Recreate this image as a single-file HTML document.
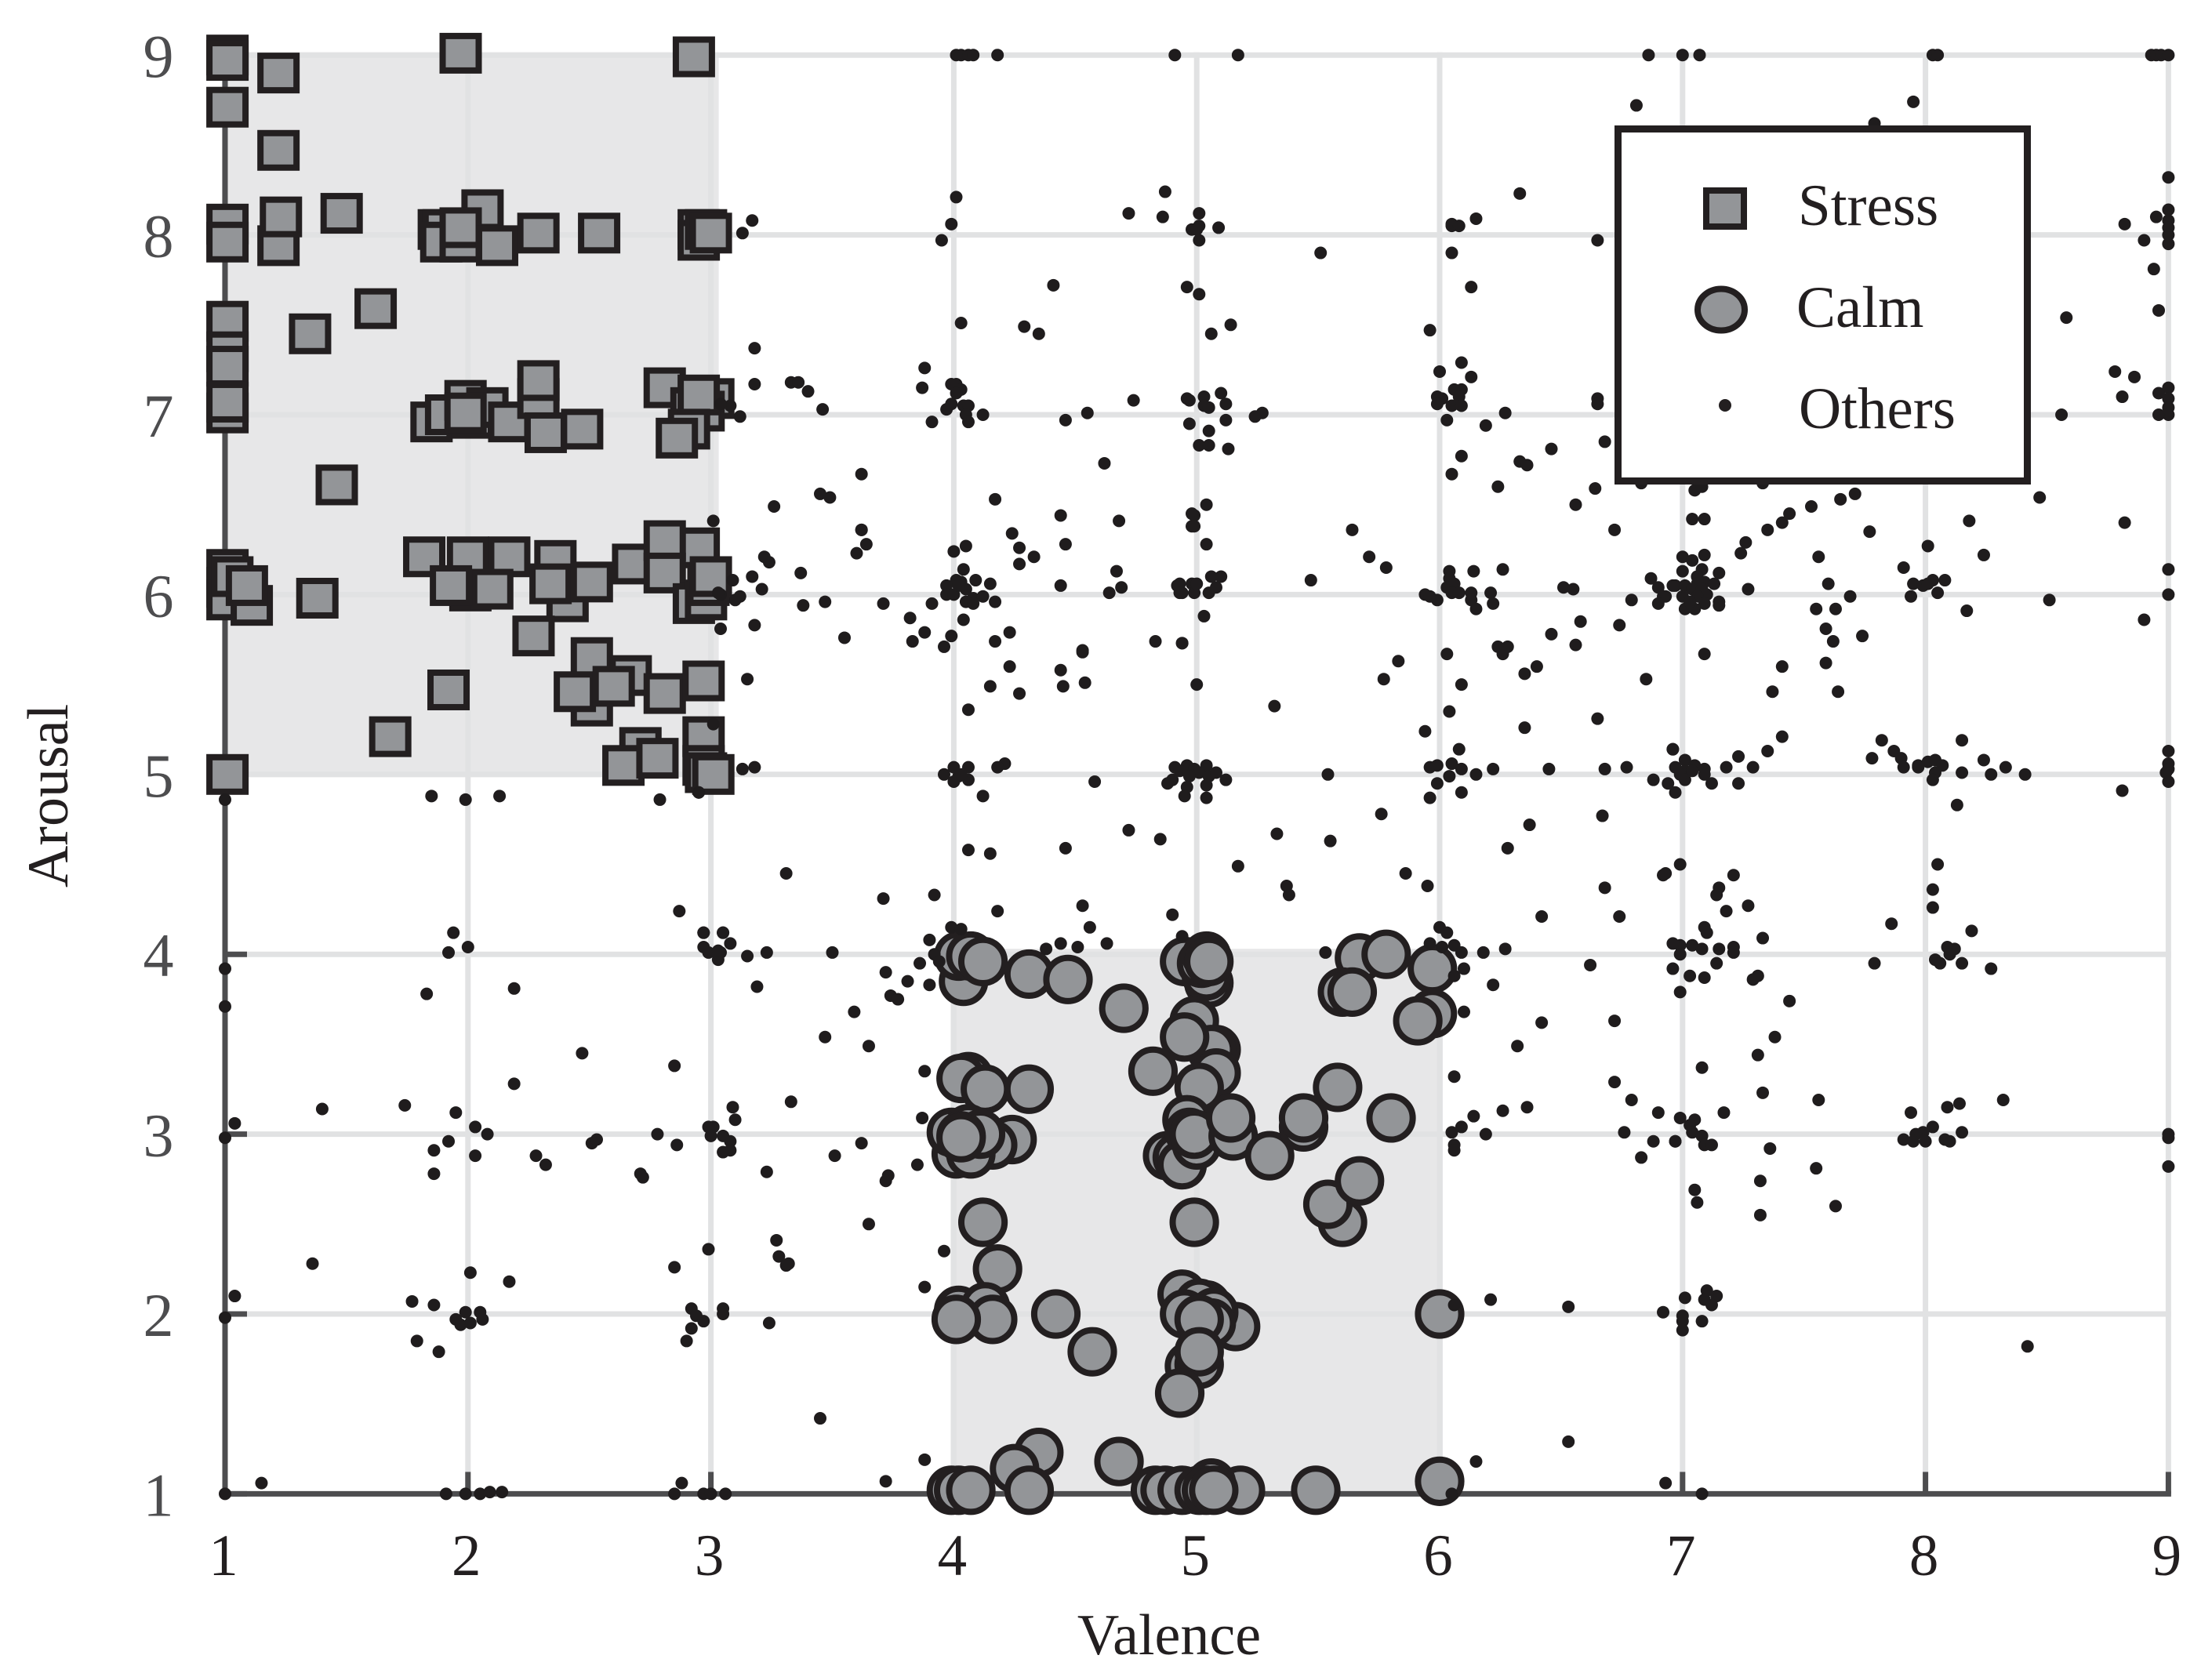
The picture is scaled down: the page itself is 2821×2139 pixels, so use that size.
<!DOCTYPE html>
<html lang="en">
<head>
<meta charset="utf-8">
<title>Valence Arousal Scatter</title>
<style>
html,body{margin:0;padding:0;background:#fff}
svg{display:block}
text{font-family:"Liberation Serif",serif}
</style>
</head>
<body>
<svg id="chart" xmlns="http://www.w3.org/2000/svg" width="2821" height="2139" viewBox="0 0 2821 2139">
  <rect x="0" y="0" width="2821" height="2139" fill="#ffffff"/>
  <g id="shades"></g>
  <g id="grid"></g>
  <g id="axes"></g>
  <g id="stress-marks"></g>
  <g id="calm-marks"></g>
  <g id="others-marks"></g>
  <g id="tick-labels"></g>
  <text x="1491" y="2110" font-size="74" text-anchor="middle" fill="#231f20">Valence</text>
  <text x="0" y="0" font-size="74" text-anchor="middle" fill="#231f20" transform="translate(86 1015) rotate(-90)">Arousal</text>
  <g>
    <rect x="2063.5" y="164.5" width="522" height="449" fill="#ffffff" stroke="#231f20" stroke-width="9"/>
    <rect x="2176" y="243" width="48" height="46" fill="#939598" stroke="#231f20" stroke-width="8"/>
    <text x="2293" y="287" font-size="75" fill="#231f20">Stress</text>
    <ellipse cx="2195" cy="395" rx="30" ry="26.5" fill="#939598" stroke="#231f20" stroke-width="8"/>
    <text x="2291" y="417" font-size="75" fill="#231f20">Calm</text>
    <circle cx="2200" cy="517" r="8" fill="#231f20"/>
    <text x="2294" y="546" font-size="75" fill="#231f20">Others</text>
  </g>
</svg>
<script>
const xTicks = [1,2,3,4,5,6,7,8,9];
const yTicks = [1,2,3,4,5,6,7,8,9];

const stressPoints = [
[1.01,9.0],[1.01,8.97],[1.22,8.9],[1.97,9.01],[2.93,8.99],[1.01,8.71],[1.22,8.47],
[1.01,8.06],[1.01,7.96],[1.22,7.94],[1.23,8.10],[1.48,8.12],
[1.88,8.03],[1.90,8.03],[1.89,7.96],[1.97,7.96],[2.06,8.14],[1.97,8.04],[2.12,7.94],[2.29,8.01],[2.54,8.01],
[2.95,8.03],[2.95,7.97],[2.98,8.03],[3.0,8.01],
[1.62,7.59],[1.35,7.45],
[1.01,7.52],[1.01,7.35],[1.01,7.27],[1.01,7.01],[1.01,7.07],
[1.85,6.96],[1.91,7.0],[2.02,6.98],[1.99,7.08],[2.08,7.04],[2.17,6.96],[1.99,7.01],[2.29,7.09],[2.29,7.19],[2.47,6.92],[2.32,6.90],
[2.81,7.15],[3.01,7.09],[2.92,7.04],[2.97,7.02],[2.95,7.11],[2.91,6.92],[2.86,6.87],
[1.46,6.61],
[1.01,6.14],[1.01,6.04],[1.01,5.97],[1.03,6.1],[1.11,5.94],[1.09,6.05],[1.38,5.98],
[1.82,6.21],[2.0,6.21],[2.17,6.21],[2.36,6.19],[2.01,6.02],[2.10,6.03],[1.93,6.05],[2.41,5.96],[2.34,6.06],[2.51,6.07],[2.27,5.77],
[2.68,6.17],[2.95,6.26],[2.81,6.3],[2.81,6.12],[2.93,5.95],[2.98,5.97],[2.99,6.05],[3.0,6.1],
[1.92,5.47],[1.68,5.21],[2.51,5.65],[2.51,5.38],[2.67,5.55],[2.44,5.46],[2.60,5.49],[2.81,5.45],[2.97,5.52],
[2.71,5.15],[2.64,5.05],[2.78,5.09],[2.97,5.21],[2.97,5.05],[2.98,5.01],[3.01,5.0],[1.01,5.0]
];

const calmPoints = [
[4.04,3.85],[4.02,3.99],[4.07,3.99],[4.12,3.96],[4.31,3.89],[4.47,3.86],[4.70,3.70],
[4.95,3.96],[5.05,3.84],[5.04,3.88],[5.02,3.95],[5.04,3.99],[5.05,3.96],
[5.67,3.98],[5.78,4.0],[5.6,3.79],[5.64,3.79],[5.97,3.92],[5.97,3.67],[5.91,3.63],
[4.99,3.63],[5.08,3.47],[5.06,3.47],[5.08,3.34],[4.95,3.54],[4.82,3.35],[5.01,3.26],
[4.06,3.32],[4.03,3.31],[4.13,3.25],[4.31,3.25],
[4.24,2.97],[4.16,2.94],[4.01,2.89],[4.07,2.89],[3.99,3.01],[4.06,3.03],[4.11,3.0],[4.03,2.99],[4.03,2.98],
[4.96,3.08],[4.88,2.88],[4.92,2.87],[4.94,2.83],[4.97,3.01],[5.0,2.94],[4.99,3.0],[5.15,2.99],[5.14,3.09],[5.30,2.88],[5.44,3.04],[5.44,3.09],[5.58,3.26],[5.8,3.09],
[5.6,2.51],[5.54,2.61],[5.67,2.74],[4.99,2.51],[4.12,2.51],[4.18,2.25],
[4.02,2.02],[4.13,2.04],[4.16,1.97],[4.01,1.97],[4.42,2.0],[4.57,1.79],
[5.16,1.93],[4.94,2.11],[5.04,2.05],[5.01,2.06],[4.95,2.0],[5.07,2.01],[5.06,1.95],[5.01,1.97],[4.97,1.71],[5.01,1.72],[5.01,1.79],[4.93,1.56],
[6.0,2.0],
[3.99,1.02],[4.02,1.02],[4.07,1.02],[4.35,1.23],[4.25,1.14],[4.31,1.02],[4.68,1.18],[4.83,1.02],[4.87,1.02],[5.18,1.02],[5.06,1.06],[4.94,1.02],[5.01,1.02],[5.04,1.02],[5.07,1.02],[5.49,1.02],[6.0,1.07]
];

const othersPoints = [
[4.01,9],[4.03,9],[4.06,9],[4.08,9],[4.18,9],[4.91,9],[5.17,9],[6.86,9],[7.0,9],[7.07,9],[8.03,9],[8.05,9],[8.93,9],[8.95,9],[8.97,9],[9,9],
[6.81,8.72],[7.95,8.74],[7.79,8.62],
[4.01,8.21],[3.99,8.06],[3.95,7.97],[4.87,8.24],[4.72,8.12],[4.86,8.10],[4.98,8.03],[3.17,8.08],[3.13,8.01],
[4.41,7.72],[4.96,7.71],[4.03,7.51],[4.29,7.49],[4.35,7.45],[3.18,7.37],[3.18,7.17],[3.33,7.18],[3.36,7.18],[3.40,7.13],[3.46,7.03],
[3.88,7.26],[3.87,7.15],[3.99,7.17],[4.01,7.17],[4.03,7.14],[4.01,7.12],[3.99,7.06],[3.97,7.03],[4.04,7.05],[4.06,7.05],[4.05,7.0],[4.06,6.96],[4.12,7.0],[3.91,6.96],
[3.08,7.05],[3.12,6.99],[3.04,7.06],[4.46,6.97],[4.55,7.01],[4.74,7.08],[4.96,7.09],[4.97,6.95],[4.62,6.73],
[3.62,6.67],[3.45,6.56],[3.49,6.54],[3.26,6.49],[3.01,6.41],[3.62,6.36],[4.17,6.53],[4.44,6.44],[4.68,6.41],[4.24,6.34],[4.98,6.45],[4.98,6.38],
[5.01,8.12],[5.01,8.05],[5.0,8.03],[5.01,7.97],[5.09,8.04],[5.51,7.9],[6.05,8.06],[6.05,8.05],[6.08,8.05],[6.15,8.09],[6.33,8.23],[6.05,7.9],[6.13,7.71],[6.65,7.97],
[5.01,7.67],[5.14,7.5],[5.06,7.45],[5.96,7.47],[6.09,7.29],[6.0,7.24],[6.13,7.21],[6.06,7.14],[6.09,7.14],[6.08,7.1],[5.99,7.1],[6.01,7.09],[5.99,7.06],[6.05,7.05],[6.09,7.05],
[6.65,7.09],[6.65,7.06],[4.97,7.08],[5.03,7.1],[5.1,7.12],[5.12,7.06],[5.03,7.05],[5.05,7.04],[5.27,7.01],[5.24,6.99],[5.12,6.97],[5.05,6.91],[5.01,6.83],[5.05,6.83],[5.13,6.81],
[6.27,7.01],[6.19,6.94],[6.03,6.97],[6.68,6.85],[6.46,6.81],[6.09,6.77],[6.33,6.74],[6.36,6.72],[6.05,6.67],[6.24,6.6],[6.64,6.59],[6.56,6.5],[6.83,6.62],
[5.04,6.5],[4.99,6.44],[4.99,6.38],[5.64,6.36],[6.72,6.36],
[9.0,8.32],[9.0,8.14],[8.95,8.1],[9.0,8.08],[9.0,8.04],[9.0,8.0],[9.0,7.95],[8.82,8.06],[8.9,7.97],[8.94,7.81],[8.58,7.54],[8.96,7.58],
[8.78,7.24],[8.86,7.21],[8.81,7.1],[8.56,7.0],[9.0,7.15],[8.96,7.12],[9.0,7.09],[9.0,7.04],[9.0,7.0],[8.96,7.0],
[7.05,6.58],[7.08,6.6],[7.33,6.62],[7.04,6.42],[7.09,6.42],[7.26,6.29],[7.35,6.36],[7.41,6.4],[7.44,6.45],[7.53,6.49],[7.65,6.53],[7.71,6.56],[7.77,6.35],[8.18,6.41],[8.47,6.54],[8.82,6.4],[8.01,6.27],
[7.24,6.23],[8.24,6.22],[7.56,6.21],[7.91,6.15],[9.0,6.14],
[7.0,6.21],[7.04,6.19],[7.09,6.22],[7.0,6.13],[7.08,6.14],[7.15,6.12],[7.06,6.1],[6.97,6.05],[7.01,6.05],[7.06,6.06],[7.09,6.07],[7.13,6.06],[7.04,6.03],[7.08,6.03],[7.1,6.0],[7.0,5.99],[7.06,5.99],[7.09,5.95],[7.01,5.92],[7.05,5.92],[7.15,5.96],[7.15,5.94],[6.93,5.99],[7.03,5.96],
[7.27,6.03],[7.6,6.06],[7.69,5.99],[7.55,5.92],[7.63,5.92],[7.59,5.81],[7.62,5.74],[7.74,5.77],[7.09,5.67],[7.41,5.6],[7.59,5.62],[7.37,5.46],[7.64,5.46],
[7.95,6.06],[7.99,6.05],[8.03,6.08],[8.08,6.08],[8.01,6.06],[7.94,5.99],[8.05,6.01],[8.17,5.91],[8.51,5.97],[8.9,5.86],[9.0,6.0],
[7.41,5.21],[7.35,5.13],[6.96,5.14],[7.01,5.08],[7.23,5.1],[7.18,5.04],[7.29,5.04],[6.97,5.04],[7.05,5.05],[7.01,5.02],[7.09,5.03],[6.99,5.0],[7.04,5.02],[7.09,5.0],[7.01,4.97],[6.94,4.95],[7.12,4.95],[7.23,4.95],[6.97,4.9],
[7.82,5.19],[7.78,5.09],[7.87,5.13],[7.9,5.09],[7.91,5.04],[7.97,5.05],[7.97,5.04],[8.01,5.07],[8.04,5.08],[8.07,5.05],[8.04,5.01],[8.03,4.97],[8.15,5.19],[8.15,5.01],[8.24,5.08],[8.27,5.0],[8.33,5.04],[8.41,5.0],[8.13,4.83],[8.81,4.91],
[9.0,5.13],[9.0,5.06],[9.0,5.03],[8.99,5.01],[9.0,4.96],
[6.99,4.5],[6.93,4.45],[7.21,4.44],[7.15,4.37],[7.14,4.33],[7.27,4.27],[7.18,4.24],[7.09,4.15],[7.1,4.12],[7.33,4.09],[6.99,4.05],[6.99,4.0],[7.04,4.05],[7.08,4.03],[7.15,4.03],[7.21,4.04],[7.21,4.01],[7.14,3.95],[6.96,3.92],[7.03,3.88],[7.09,3.87],[6.99,3.79],[7.29,3.86],[7.31,3.88],[7.44,3.74],
[8.05,4.5],[8.03,4.36],[8.03,4.26],[7.86,4.17],[8.19,4.13],[8.09,4.04],[8.12,4.03],[8.1,4.0],[8.04,3.97],[8.06,3.95],[7.79,3.95],[8.15,3.95],[8.27,3.92],
[7.38,3.54],[7.31,3.44],[7.08,3.37],[7.33,3.23],[7.56,3.19],[7.17,3.12],[6.99,3.09],[7.05,3.08],[7.03,3.05],[7.04,3.01],[7.08,2.99],[7.09,2.94],[7.12,2.94],[6.97,2.96],[7.36,2.92],[7.55,2.81],[7.32,2.74],[7.05,2.69],[7.06,2.62],[7.32,2.55],[7.63,2.6],
[7.94,3.12],[8.09,3.15],[8.14,3.17],[8.32,3.19],[8.03,3.04],[7.99,3.01],[7.96,3.0],[7.91,2.97],[7.95,2.96],[8.0,2.96],[8.08,2.97],[8.1,2.96],[8.15,3.01],[9.0,3.0],[9.0,2.98],[9.0,2.82],
[7.1,2.13],[7.14,2.1],[7.09,2.08],[7.01,2.09],[7.12,2.05],[6.92,2.01],[7.0,1.99],[7.0,1.96],[7.0,1.91],[7.08,1.96],[8.42,1.82],[6.93,1.06],[7.08,1.0],
[3.62,6.36],[3.64,6.28],[3.6,6.23],[3.22,6.21],[3.24,6.18],[3.37,6.12],[3.17,6.1],[3.09,6.08],[3.21,6.03],[3.12,5.99],[3.1,5.97],[3.04,6.0],[3.03,6.01],
[4.27,6.26],[4.33,6.21],[4.27,6.17],[4.46,6.28],[4.44,6.05],[4.67,6.13],[4.69,6.04],[4.64,6.01],[4.05,6.27],[4.0,6.24],[4.04,6.14],
[4.01,6.08],[3.97,6.05],[4.03,6.07],[4.09,6.08],[4.15,6.06],[3.97,6.0],[4.0,6.0],[4.05,6.03],[4.08,5.98],[4.12,5.99],[4.05,5.96],[4.08,5.95],[4.17,5.96],[4.02,6.05],
[3.47,5.96],[3.38,5.94],[3.71,5.95],[3.91,5.95],[3.82,5.87],[4.04,5.86],[3.88,5.79],[3.83,5.74],[3.99,5.77],[3.96,5.71],[3.55,5.76],[3.18,5.83],[3.04,5.81],
[4.23,5.79],[4.17,5.74],[4.23,5.6],[4.44,5.58],[4.45,5.49],[4.54,5.51],[4.53,5.69],[4.53,5.68],[4.15,5.49],[4.27,5.45],[4.06,5.36],[3.15,5.53],[3.01,5.28],
[4.83,5.74],[4.94,5.73],[4.92,6.05],[4.94,6.01],[4.98,6.06],[3.18,5.04],[3.13,5.03],
[4.0,5.04],[4.06,5.04],[3.96,5.0],[4.02,4.99],[4.0,4.96],[4.06,4.97],[4.03,5.0],[4.21,5.06],[4.18,5.04],[4.58,4.96],[4.12,4.88],[2.95,4.9],
[4.72,4.69],[4.85,4.64],[4.46,4.59],[4.06,4.58],[4.15,4.56],[3.31,4.45],[3.71,4.31],[3.92,4.33],[4.18,4.24],[4.53,4.27],[4.9,4.22],[4.56,4.15],
[2.97,4.12],[3.05,4.12],[3.08,4.06],[2.97,4.04],[2.99,4.01],[3.04,4.01],[3.03,3.97],[3.15,3.99],[3.23,4.01],[3.5,4.01],[3.19,3.82],
[3.99,4.15],[4.03,4.14],[3.9,4.08],[3.92,4.0],[3.94,3.96],[3.86,3.95],[3.72,3.9],[3.81,3.85],[3.9,3.83],[3.74,3.77],[3.77,3.75],[3.59,3.68],
[4.38,4.03],[4.44,4.06],[4.51,4.04],[4.63,4.06],[4.94,4.1],
[5.04,6.28],[5.71,6.21],[5.78,6.15],[5.47,6.08],[4.93,6.06],[4.93,6.01],[4.99,6.01],[5.0,6.06],[5.05,6.01],[5.06,6.1],[5.1,6.1],[5.08,6.04],
[6.04,6.13],[6.04,6.09],[6.06,6.06],[6.03,6.04],[6.05,6.01],[6.08,6.01],[5.94,6.0],[5.96,5.99],[5.99,5.97],[6.13,6.01],[6.13,5.97],[6.15,5.92],[6.21,6.01],[6.22,5.95],[6.14,6.13],[6.26,6.14],
[6.51,6.04],[6.55,6.03],[6.87,6.09],[6.9,6.04],[6.92,5.99],[6.9,5.95],[6.79,5.97],[6.96,6.05],
[5.03,5.88],[4.94,5.73],[5.0,5.5],[5.32,5.38],[5.83,5.63],[5.77,5.53],[6.03,5.67],[6.09,5.5],[6.04,5.35],[5.94,5.24],
[6.24,5.71],[6.28,5.71],[6.26,5.67],[6.35,5.56],[6.4,5.6],[6.46,5.78],[6.56,5.72],[6.58,5.85],[6.74,5.83],[6.85,5.53],[6.35,5.26],[6.65,5.31],[6.08,5.14],[6.96,5.14],
[4.96,5.05],[4.91,5.04],[4.93,5.02],[4.99,5.03],[5.04,5.05],[5.01,5.01],[4.97,4.99],[5.05,4.99],[5.08,5.01],[5.12,4.97],[4.96,4.93],[4.95,4.88],[5.04,4.87],[5.04,4.94],[5.54,5.0],[4.9,4.97],[4.88,4.95],
[5.96,5.04],[5.99,5.05],[6.05,5.06],[6.09,5.03],[6.04,4.99],[5.99,4.95],[5.96,4.87],[6.09,4.9],[6.15,5.0],[6.22,5.03],[6.45,5.03],[6.68,5.03],[6.77,5.04],[6.88,4.97],
[5.76,4.78],[5.33,4.67],[5.55,4.63],[5.17,4.49],[5.37,4.38],[5.38,4.33],[5.86,4.45],[5.95,4.38],
[6.67,4.77],[6.37,4.72],[6.28,4.59],[6.92,4.44],[6.68,4.37],[6.42,4.21],[6.74,4.21],[6.62,3.94],
[5.53,4.01],[6.0,4.15],[6.03,4.12],[5.96,4.06],[6.06,4.05],[6.01,4.04],[6.09,4.01],[6.18,4.01],[6.27,4.03],[6.1,3.92],[6.06,3.88],[6.22,3.83],[6.1,3.68],[6.96,4.06],
[6.42,3.62],[6.72,3.63],[6.32,3.49],[6.06,3.32],[6.72,3.29],[6.79,3.19],[6.9,3.12],[6.36,3.15],[6.26,3.13],[6.14,3.1],[6.09,3.04],[6.05,3.01],[6.19,3.0],[6.06,2.94],[6.06,2.91],[6.76,3.01],[6.88,2.96],[6.97,2.96],[6.83,2.87],
[3.88,3.35],[3.33,3.18],[3.87,3.09],[3.62,2.95],[3.51,2.88],[3.85,2.83],[3.73,2.77],[3.72,2.74],[3.65,2.5],[3.32,2.28],[3.96,2.35],[3.88,2.15],[3.45,1.42],[3.88,1.19],[3.72,1.07],[3.47,3.54],[3.65,3.49],
[6.21,2.08],[6.06,2.05],[6.53,2.04],[6.53,1.29],[6.15,1.18],[6.05,1.0],
[1.0,4.86],[1.85,4.88],[1.99,4.86],[2.13,4.88],[2.79,4.86],[2.95,4.9],[2.87,4.24],[2.97,4.12],[3.05,4.12],[3.03,4.02],[1.94,4.12],[2.0,4.04],[1.92,4.01],[1.0,3.92],[1.0,3.71],[2.19,3.81],[1.83,3.78],[2.47,3.45],[2.85,3.38],[2.19,3.28],
[1.4,3.14],[1.74,3.16],[1.95,3.12],[1.04,3.06],[1.0,2.98],[2.03,3.04],[2.08,3.0],[1.92,2.96],[1.86,2.91],[2.03,2.88],[1.86,2.78],[2.28,2.88],[2.32,2.83],[2.51,2.95],[2.53,2.97],[2.71,2.78],[2.72,2.76],[2.78,3.0],[2.86,2.94],
[3.09,3.15],[3.1,3.08],[2.99,3.04],[3.01,3.04],[3.0,2.99],[3.05,2.99],[3.08,2.96],[3.08,2.91],[3.05,2.9],[3.23,2.79],
[2.99,2.36],[2.85,2.26],[2.01,2.23],[2.17,2.18],[1.36,2.28],[1.04,2.1],[1.77,2.07],[1.86,2.05],[1.99,2.01],[2.05,2.01],[1.95,1.97],[1.97,1.94],[2.01,1.95],[2.06,1.97],[1.79,1.85],[1.88,1.79],[1.0,1.98],
[2.92,2.03],[2.94,1.99],[2.97,1.96],[2.92,1.92],[2.9,1.85],[3.05,2.03],[3.05,2.0],[3.24,1.95],[3.27,2.41],[3.28,2.32],[3.31,2.27],
[1.15,1.06],[1.0,1.0],[1.91,1.0],[1.99,1.0],[2.05,1.0],[2.09,1.01],[2.14,1.01],[2.85,1.0],[2.88,1.06],[2.97,1.0],[3.0,1.0],[3.06,1.0]
];

const SVG_NS = 'http://www.w3.org/2000/svg';
function xScale(v) { return 287 + (v - 1) * 309.8; }
function yScale(a) { return 70.2 + (9 - a) * 229.4; }

function make(tag, attrs, parent) {
  const el = document.createElementNS(SVG_NS, tag);
  for (const k in attrs) el.setAttribute(k, attrs[k]);
  parent.appendChild(el);
  return el;
}

const shades = document.getElementById('shades');
const stressShade = make('rect', {x: xScale(1) - 4, y: yScale(9) - 3.5, width: xScale(3) - xScale(1) + 14, height: yScale(5) - yScale(9) + 7, fill: '#e7e7e8'}, shades);


const calmShade = make('rect', {x: xScale(4) - 4, y: yScale(4) - 7, width: xScale(6) - xScale(4) + 8, height: yScale(1) - yScale(4) + 7, fill: '#e7e7e8'}, shades);



const grid = document.getElementById('grid');
xTicks.forEach(function (t) {
  const line = make('line', {x1: xScale(t), x2: xScale(t), y1: yScale(9) - 3.5, y2: yScale(1), stroke: '#e1e2e3', 'stroke-width': 7}, grid);
  
  
});
yTicks.forEach(function (t) {
  const line = make('line', {x1: xScale(1), x2: xScale(9) + 3.5, y1: yScale(t), y2: yScale(t), stroke: '#e1e2e3', 'stroke-width': 7}, grid);
  
  
});

const axes = document.getElementById('axes');
const yAxisLine = make('line', {x1: xScale(1), x2: xScale(1), y1: yScale(9), y2: yScale(1) + 3, stroke: '#4d4d4f', 'stroke-width': 7}, axes);


const xAxisLine = make('line', {x1: xScale(1) - 3.5, x2: xScale(9) + 3.5, y1: yScale(1), y2: yScale(1), stroke: '#4d4d4f', 'stroke-width': 7}, axes);


xTicks.forEach(function (t) {
  const tick = make('line', {x1: xScale(t), x2: xScale(t), y1: yScale(1), y2: yScale(1) - 28, stroke: '#4d4d4f', 'stroke-width': 7}, axes);
  
  
});
yTicks.forEach(function (t) {
  const tick = make('line', {x1: xScale(1), x2: xScale(1) + 28, y1: yScale(t), y2: yScale(t), stroke: '#4d4d4f', 'stroke-width': 7}, axes);
  
  
});

const stressGroup = document.getElementById('stress-marks');
stressPoints.forEach(function (p) {
  const w = 46, h = 44;
  const mark = make('rect', {x: xScale(p[0]) - w / 2, y: yScale(p[1]) - h / 2, width: w, height: h, fill: '#939598', stroke: '#231f20', 'stroke-width': 8}, stressGroup);
  
  
});

const calmGroup = document.getElementById('calm-marks');
calmPoints.forEach(function (p) {
  const mark = make('circle', {cx: xScale(p[0]), cy: yScale(p[1]), r: 27.6, fill: '#939598', stroke: '#231f20', 'stroke-width': 8}, calmGroup);
  
  
});

const othersGroup = document.getElementById('others-marks');
othersPoints.forEach(function (p) {
  const mark = make('circle', {cx: xScale(p[0]), cy: yScale(p[1]), r: 8, fill: '#1f1c1d'}, othersGroup);
  
  
});

const labels = document.getElementById('tick-labels');
xTicks.forEach(function (t) {
  const label = make('text', {x: xScale(t) - 2, y: 2009, 'font-size': 75, 'text-anchor': 'middle', fill: '#231f20'}, labels);
  label.textContent = String(t);
  
  
});
yTicks.forEach(function (t) {
  const label = make('text', {x: 202, y: yScale(t) + 28, 'font-size': 78, 'text-anchor': 'middle', fill: '#4d4d4f'}, labels);
  label.textContent = String(t);
  
  
});
</script>
</body>
</html>
